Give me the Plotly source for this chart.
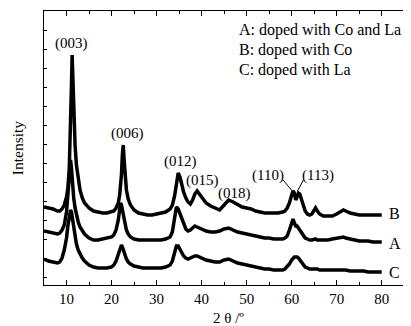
import plotly.graph_objects as go

two_theta = [5, 6, 7, 8, 8.5, 9, 9.5, 10, 10.3, 10.6,
             10.9, 11.1, 11.25, 11.4, 11.6, 11.9, 12.2, 12.6, 13, 13.5,
             14, 15, 16, 17, 18, 19, 20, 20.5, 21, 21.5,
             21.8, 22.0, 22.2, 22.4, 22.6, 22.8, 23.0, 23.3, 23.7, 24.2,
             25, 26, 27, 28, 29, 30, 31, 32, 33, 33.5,
             34.0, 34.4, 34.8, 35.2, 35.6, 36.0, 36.5, 37.0, 37.5, 38.0,
             38.5, 39.0, 39.5, 40.0, 40.5, 41, 42, 43, 44, 45,
             46, 47, 48, 49, 50, 51, 52, 53, 54, 55,
             56, 57, 58, 58.5, 59, 59.5, 60.0, 60.3, 60.6, 60.9,
             61.2, 61.5, 61.8, 62.2, 62.6, 63, 63.5, 64, 64.5, 65,
             65.3, 65.7, 66.2, 67, 68, 69, 70, 71, 71.5, 72,
             73, 74, 75, 76, 77, 78, 79, 80]

intensity_B = [78, 77, 76, 74, 74, 76, 80, 88, 97, 115,
               155, 200, 230, 205, 170, 140, 120, 105, 95, 87,
               82, 77, 74, 73, 72, 72, 73, 74, 77, 82,
               90, 97, 110, 130, 140, 125, 107, 95, 86, 80,
               75, 72, 71, 70, 70, 71, 72, 73, 76, 80,
               89, 102, 112, 108, 100, 93, 87, 83, 81, 85,
               91, 94, 91, 88, 85, 82, 79, 77, 75, 80,
               85, 83, 80, 78, 77, 76, 74, 73, 72, 72,
               72, 72, 73, 74, 77, 82, 90, 94, 92, 85,
               88, 92, 91, 85, 78, 74, 71, 70, 71, 75,
               77, 74, 71, 69, 69, 69, 71, 74, 75, 74,
               72, 71, 70, 70, 70, 70, 70, 70]

intensity_A = [54, 53, 52, 51, 52, 55, 60, 73, 90, 115,
               125, 117, 107, 97, 87, 77, 69, 63, 58, 54,
               51, 47, 45, 45, 46, 47, 48, 50, 55, 65,
               75, 82, 80, 75, 70, 65, 60, 55, 51, 48,
               46, 45, 45, 45, 45, 45, 45, 46, 48, 53,
               67, 78, 76, 71, 65, 60, 56, 54, 55, 57,
               59, 58, 57, 56, 55, 54, 53, 53, 54, 56,
               57, 55, 53, 52, 51, 50, 49, 48, 47, 47,
               46, 46, 46, 47, 49, 55, 63, 66, 62, 59,
               59, 57, 54, 51, 49, 47, 46, 45, 45, 46,
               46, 45, 45, 45, 45, 46, 47, 48, 48, 47,
               46, 45, 44, 44, 44, 43, 43, 43]

intensity_C = [26, 24, 23, 22, 23, 27, 35, 47, 59, 70,
               75, 73, 69, 63, 56, 48, 41, 35, 31, 27,
               24, 20, 18, 17, 17, 17, 18, 20, 24, 31,
               36, 39, 40, 38, 35, 32, 29, 26, 23, 21,
               19, 18, 17, 17, 17, 17, 17, 18, 20, 24,
               33, 39, 39, 36, 32, 29, 27, 26, 27, 28,
               29, 29, 28, 27, 26, 25, 24, 23, 23, 25,
               26, 24, 22, 21, 20, 19, 18, 17, 16, 16,
               15, 15, 15, 16, 18, 21, 25, 27, 28, 28,
               28, 27, 25, 22, 20, 18, 17, 16, 16, 16,
               16, 16, 15, 15, 15, 15, 15, 15, 15, 15,
               14, 14, 14, 14, 13, 13, 13, 13]

series_names = ["B", "A", "C"]
series_values = [intensity_B, intensity_A, intensity_C]
series_label_y = [72, 42, 13]

peak_labels = ["(003)", "(006)", "(012)", "(015)", "(018)", "(110)", "(113)"]
peak_label_x = [11.1, 23.5, 35.3, 40.3, 47.4, 54.8, 65.9]
peak_label_y = [242, 152, 124, 105, 92, 110, 110]

legend_lines = ["A: doped with Co and La", "B: doped with Co", "C: doped with La"]

x_ticks = [10, 20, 30, 40, 50, 60, 70, 80]

FONT = "Liberation Serif"

fig = go.Figure()
for name, vals in zip(series_names, series_values):
    assert len(vals) == len(two_theta)
    fig.add_trace(go.Scatter(x=two_theta, y=vals, mode="lines", name=name,
                             line=dict(color="black", width=3.5),
                             showlegend=False, hoverinfo="skip"))

annotations = []
for t, px, py in zip(peak_labels, peak_label_x, peak_label_y):
    annotations.append(dict(x=px, y=py, xref="x", yref="y", text=t, showarrow=False,
                            font=dict(family=FONT, size=15, color="black"),
                            xanchor="center", yanchor="middle"))
for name, ly in zip(series_names, series_label_y):
    annotations.append(dict(x=82.9, y=ly, xref="x", yref="y", text=name, showarrow=False,
                            font=dict(family=FONT, size=16, color="black"),
                            xanchor="center", yanchor="middle"))
for i, t in enumerate(legend_lines):
    annotations.append(dict(x=0.525, y=0.931 - i * 0.073, xref="paper", yref="paper",
                            text=t, showarrow=False,
                            font=dict(family=FONT, size=16, color="black"),
                            xanchor="left", yanchor="middle"))
annotations.append(dict(x=-0.073, y=0.5, xref="paper", yref="paper", text="Intensity",
                        textangle=-90, showarrow=False,
                        font=dict(family=FONT, size=15.5, color="black"),
                        xanchor="center", yanchor="middle"))
annotations.append(dict(x=0.502, y=-0.121, xref="paper", yref="paper", text="2 θ /º",
                        showarrow=False, font=dict(family=FONT, size=15, color="black"),
                        xanchor="center", yanchor="middle"))

shapes = [
    dict(type="line", xref="x", yref="y", x0=58.1, y0=105, x1=60.3, y1=93,
         line=dict(color="black", width=1)),
    dict(type="line", xref="x", yref="y", x0=62.6, y0=105, x1=61.3, y1=94,
         line=dict(color="black", width=1)),
]

# The page body has an 8px default margin; size the figure so the plot area
# lands where it is in the reference (x 44..411, y 11..285 of the window).
fig.update_layout(
    width=403, height=318,
    margin=dict(l=36, r=0, t=3, b=41),
    paper_bgcolor="white", plot_bgcolor="white",
    annotations=annotations, shapes=shapes,
    font=dict(family=FONT, size=15, color="black"),
)
fig.update_xaxes(range=[5, 86.5], tickvals=x_ticks, ticks="inside", ticklen=5,
                 tickcolor="black", tickwidth=1,
                 minor=dict(dtick=5, tick0=0, ticks="inside", ticklen=3, tickcolor="black"),
                 showline=True, linecolor="black", linewidth=1, mirror="ticks",
                 showgrid=False, zeroline=False,
                 tickfont=dict(family=FONT, size=15, color="black"))
fig.update_yaxes(range=[0, 274], tick0=8, dtick=19, ticks="inside", ticklen=3,
                 tickcolor="black", showticklabels=False,
                 showline=True, linecolor="black", linewidth=1, mirror=False,
                 showgrid=False, zeroline=False)

fig.write_html("out.html")
